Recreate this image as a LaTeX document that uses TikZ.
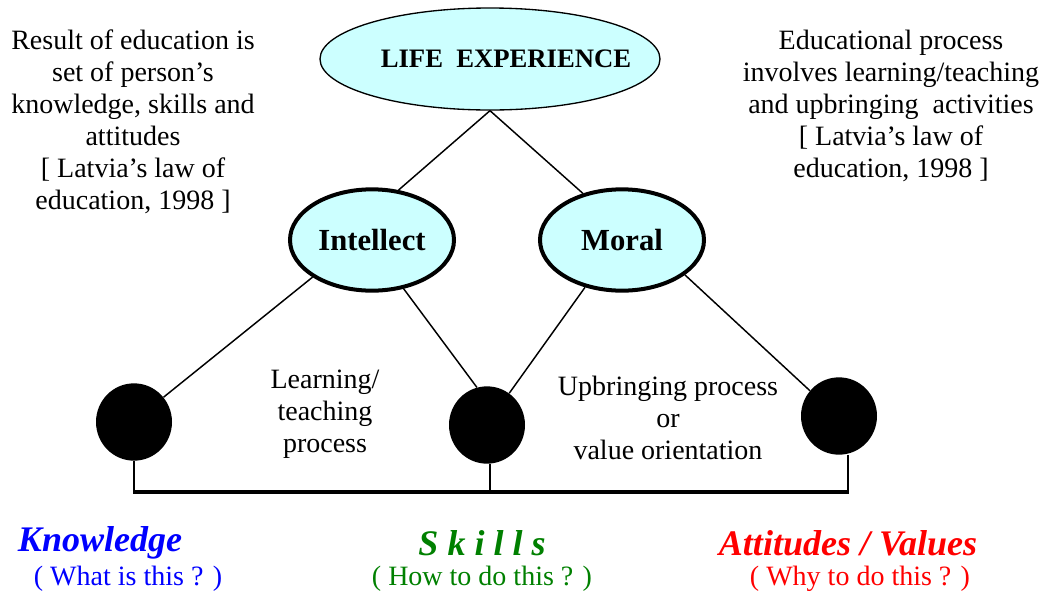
\documentclass[tikz,border=0pt]{standalone}
\usepackage{fontspec}
\setmainfont{Liberation Serif}
\usetikzlibrary{shapes.geometric}
\definecolor{lecyan}{HTML}{CCFFFF}
\definecolor{kblue}{HTML}{0000FF}
\definecolor{sgreen}{HTML}{008000}
\definecolor{ared}{HTML}{FF0000}
\begin{document}
\begin{tikzpicture}[x=0.75pt,y=-0.75pt,
 body/.style={font=\fontsize{21}{24}\selectfont, align=center, inner sep=0pt},
 topell/.style={ellipse, draw, fill=lecyan, line width=1pt, minimum width=255pt, minimum height=76.5pt, inner sep=0pt, font=\fontsize{20}{24}\selectfont\bfseries},
 midell/.style={ellipse, draw, fill=lecyan, line width=3pt, minimum width=123pt, minimum height=76pt, inner sep=0pt, font=\fontsize{23}{27}\selectfont\bfseries},
 dot/.style={ellipse, fill=black, minimum width=57pt, minimum height=58pt, inner sep=0pt},
 link/.style={line width=1.1pt},
 bar/.style={line width=3pt},
 title/.style={font=\fontsize{27}{30}\selectfont\bfseries\itshape, inner sep=0pt},
 sub/.style={font=\fontsize{21}{24}\selectfont, inner sep=0pt}]
\useasboundingbox (0,0) rectangle (1047,594);

% text blocks
\node[body] (lt) at (133,122) {Result of education is\\ set of person’s\\ knowledge, skills and\\ attitudes\\ {[} Latvia’s law of\\ education, 1998 ]};
\node[body] (rt) at (891,106) {Educational process\\ involves learning/teaching\\ and upbringing~~activities\\ {[} Latvia’s law of\\ education, 1998 ]};
\node[body] (lp) at (325,414) {Learning/\\ teaching\\ process};
\node[body] (up) at (668,418) {Upbringing process\\ or\\ value orientation};

% coordinates for stems and bar
\coordinate (s1) at (134,490);
\coordinate (s2) at (490,490);
\coordinate (s3) at (848,490);
\coordinate (b1) at (133,492);
\coordinate (b2) at (849,492);

\node[topell] (le) at (490,59) {\makebox[0pt]{\hspace*{24pt}LIFE~~EXPERIENCE}};
\node[midell] (int) at (372,240) {Intellect};
\node[midell] (mor) at (622,240) {Moral};
\node[dot] (c1) at (134,422) {};
\node[dot] (c2) at (487,425) {};
\node[dot] (c3) at (839,416) {};

\draw[link] (le.south) -- (int.62);
\draw[link] (le.south) -- (mor.130);
\draw[link] (int.212) -- (c1.40);
\draw[link] (int.-57) -- (c2.105);
\draw[link] (mor.232) -- (c2.55);
\draw[link] (mor.-29) -- (c3.139);

\draw[link] (c1.south) -- (s1);
\draw[link] (s2 |- c2.south) -- (s2);
\draw[link] (s3 |- c3.south) -- (s3);
\draw[bar] (b1) -- (b2);

% bottom labels
\node[title, text=kblue] (kn) at (100,543) {Knowledge};
\node[sub, text=kblue] (kq) at (128,579) {( What is this ? )};
\node[title, text=sgreen] (sk) at (482,543) {S k i l l s};
\node[sub, text=sgreen] (sq) at (482,579) {( How to do this ? )};
\node[title, text=ared] (at) at (848,543) {Attitudes / Values};
\node[sub, text=ared] (aq) at (860,579) {( Why to do this ? )};
\end{tikzpicture}
\end{document}
